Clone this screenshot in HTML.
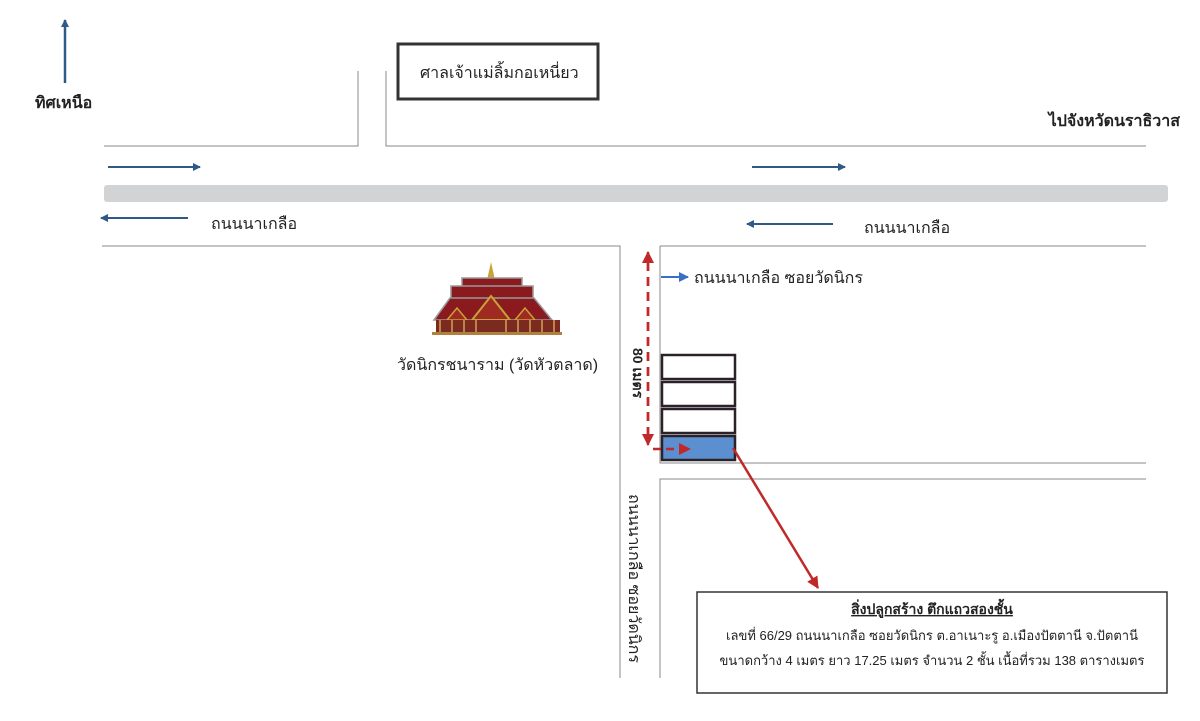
<!DOCTYPE html>
<html><head><meta charset="utf-8"><style>
html,body{margin:0;padding:0;background:#fff;}
svg text{font-family:"Liberation Sans","DejaVu Sans",sans-serif;fill:#222;}
</style></head><body>
<svg width="1200" height="716" viewBox="0 0 1200 716" xmlns="http://www.w3.org/2000/svg">
<defs>
<marker id="bA" markerWidth="8" markerHeight="8" refX="7" refY="4" orient="auto" markerUnits="userSpaceOnUse"><path d="M0,0 L8,4 L0,8 z" fill="#2e5a87"/></marker>
<marker id="bB" markerWidth="10" markerHeight="10" refX="9" refY="5" orient="auto" markerUnits="userSpaceOnUse"><path d="M0,0 L10,5 L0,10 z" fill="#3a6fc4"/></marker>
<marker id="rA" markerWidth="12" markerHeight="12" refX="11" refY="6" orient="auto" markerUnits="userSpaceOnUse"><path d="M0,0 L12,6 L0,12 z" fill="#c0282a"/></marker>
</defs>
<line x1="65" y1="83" x2="65" y2="20" stroke="#2e5a87" stroke-width="2.5" marker-end="url(#bA)"/>
<text x="35" y="108" font-size="16" font-weight="bold">ทิศเหนือ</text>
<rect x="398" y="44" width="200" height="55" fill="none" stroke="#333" stroke-width="3"/>
<text x="420" y="78" font-size="16">ศาลเจ้าแม่ลิ้มกอเหนี่ยว</text>
<text x="1180" y="126" font-size="16" font-weight="bold" text-anchor="end">ไปจังหวัดนราธิวาส</text>
<polyline points="104,146 358,146 358,71" fill="none" stroke="#888" stroke-width="1"/>
<polyline points="386,71 386,146 1146,146" fill="none" stroke="#888" stroke-width="1"/>
<rect x="104" y="185" width="1064" height="17" rx="3" fill="#d2d3d5"/>
<line x1="108" y1="167" x2="200" y2="167" stroke="#2e5a87" stroke-width="2" marker-end="url(#bA)"/>
<line x1="752" y1="167" x2="845" y2="167" stroke="#2e5a87" stroke-width="2" marker-end="url(#bA)"/>
<line x1="188" y1="218" x2="101" y2="218" stroke="#2e5a87" stroke-width="2" marker-end="url(#bA)"/>
<line x1="833" y1="224" x2="747" y2="224" stroke="#2e5a87" stroke-width="2" marker-end="url(#bA)"/>
<text x="211" y="229" font-size="16">ถนนนาเกลือ</text>
<text x="864" y="233" font-size="16">ถนนนาเกลือ</text>
<polyline points="102,246 620,246 620,678" fill="none" stroke="#888" stroke-width="1"/>
<polyline points="660,246 1146,246" fill="none" stroke="#888" stroke-width="1"/>
<polyline points="660,246 660,463 1146,463" fill="none" stroke="#888" stroke-width="1"/>
<polyline points="660,678 660,479 1146,479" fill="none" stroke="#888" stroke-width="1"/>
<line x1="661" y1="277" x2="688" y2="277" stroke="#3a6fc4" stroke-width="2" marker-end="url(#bB)"/>
<text x="694" y="283" font-size="16">ถนนนาเกลือ ซอยวัดนิกร</text>
<g>
<polygon points="491,262 495,280 487,280" fill="#c9a23a"/>
<rect x="462" y="278" width="60" height="14" fill="#8b1a1f" stroke="#999" stroke-width="1.5"/>
<rect x="451" y="286" width="82" height="14" fill="#8b1a1f" stroke="#999" stroke-width="1.5"/>
<polygon points="434,320 450,298 534,298 552,320" fill="#8b1a1f" stroke="#999" stroke-width="1.5"/>
<polygon points="472,320 491,296 510,320" fill="#9e2a22" stroke="#c9a23a" stroke-width="2"/>
<polygon points="447,320 457,308 467,320" fill="#9e2a22" stroke="#c9a23a" stroke-width="1.5"/>
<polygon points="515,320 525,308 535,320" fill="#9e2a22" stroke="#c9a23a" stroke-width="1.5"/>
<rect x="436" y="320" width="124" height="13" fill="#7a2a1f"/>
<g stroke="#d1a35a" stroke-width="1.5"><line x1="440" y1="320" x2="440" y2="333"/><line x1="452" y1="320" x2="452" y2="333"/><line x1="464" y1="320" x2="464" y2="333"/><line x1="476" y1="320" x2="476" y2="333"/><line x1="506" y1="320" x2="506" y2="333"/><line x1="518" y1="320" x2="518" y2="333"/><line x1="530" y1="320" x2="530" y2="333"/><line x1="542" y1="320" x2="542" y2="333"/><line x1="554" y1="320" x2="554" y2="333"/></g>
<rect x="432" y="332" width="130" height="3" fill="#b08040"/>
</g>
<text x="397" y="370" font-size="16">วัดนิกรชนาราม (วัดหัวตลาด)</text>
<line x1="648" y1="436" x2="648" y2="252" stroke="#c0282a" stroke-width="2.5" stroke-dasharray="9,6" marker-end="url(#rA)"/>
<line x1="648" y1="262" x2="648" y2="445" stroke="#c0282a" stroke-width="2.5" stroke-dasharray="9,6" marker-end="url(#rA)"/>
<text transform="translate(633,348) rotate(90)" font-size="14" font-weight="bold">80 เมตร</text>
<rect x="662" y="355" width="73" height="24" fill="#fff" stroke="#2a2228" stroke-width="2.5"/>
<rect x="662" y="382" width="73" height="24" fill="#fff" stroke="#2a2228" stroke-width="2.5"/>
<rect x="662" y="409" width="73" height="24" fill="#fff" stroke="#2a2228" stroke-width="2.5"/>
<rect x="662" y="436" width="73" height="24" fill="#5b8fd0" stroke="#2a2228" stroke-width="2.5"/>
<line x1="653" y1="449" x2="690" y2="449" stroke="#c0282a" stroke-width="2.5" stroke-dasharray="8,5" marker-end="url(#rA)"/>
<line x1="733" y1="448" x2="818" y2="588" stroke="#c0282a" stroke-width="2.5" marker-end="url(#rA)"/>
<text transform="translate(629,494) rotate(90)" font-size="16">ถนนนาเกลือ ซอยวัดนิกร</text>
<rect x="697" y="592" width="470" height="101" fill="#fff" stroke="#333" stroke-width="1.5"/>
<text x="932" y="614" font-size="14" font-weight="bold" text-anchor="middle" text-decoration="underline">สิ่งปลูกสร้าง ตึกแถวสองชั้น</text>
<text x="932" y="640" font-size="13" text-anchor="middle">เลขที่ 66/29 ถนนนาเกลือ ซอยวัดนิกร ต.อาเนาะรู อ.เมืองปัตตานี จ.ปัตตานี</text>
<text x="932" y="665" font-size="13" text-anchor="middle">ขนาดกว้าง 4 เมตร ยาว 17.25  เมตร จำนวน 2 ชั้น เนื้อที่รวม 138 ตารางเมตร</text>
</svg>
</body></html>
